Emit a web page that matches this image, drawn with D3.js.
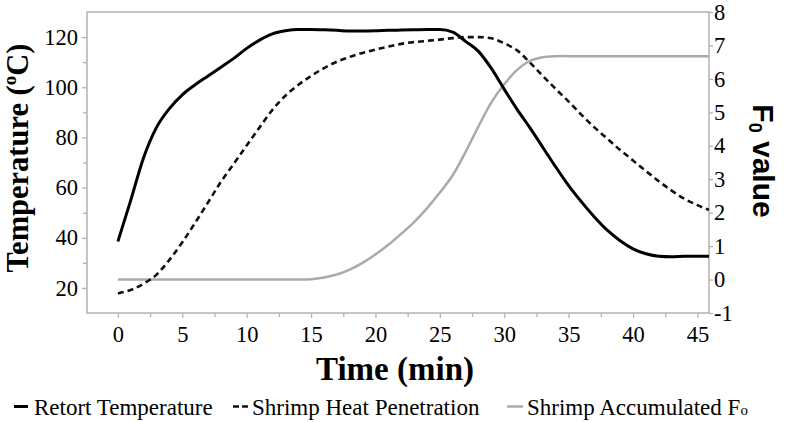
<!DOCTYPE html>
<html>
<head>
<meta charset="utf-8">
<script src="https://cdn.jsdelivr.net/npm/d3@7"></script>
<style>
  html, body { margin: 0; padding: 0; background: #fff; }
  svg { display: block; }
</style>
</head>
<body>
<svg id="chart" width="785" height="422"></svg>
<script>
// ---- data ----
const timeMin = [0,1,2,3,4,5,6,7,8,9,10,11,12,13,14,15,16,17,18,19,20,21,22,23,24,25,26,27,28,29,30,31,32,33,34,35,36,37,38,39,40,41,42,43,44,45,45.9];
const retortTemp = [38.5,55,72,84,91.5,97,101,104.5,108,111.5,115.5,118.8,121.3,122.5,123,123,122.9,122.7,122.4,122.4,122.5,122.7,122.8,122.9,123,123,122,118.3,114.3,107.5,99.2,91.2,83.8,76,68.2,60.8,54.3,48.3,43,38.8,35.6,33.6,32.6,32.4,32.6,32.6,32.6];
const shrimpTemp = [17.8,19.2,21.7,25.3,31.2,38.2,46,54.1,62.3,69.5,76.8,84,91,96.6,100.9,104.5,107.6,110.2,112.1,113.7,115,116.2,117.3,118,118.5,119,119.6,120,120,119.5,117.5,114.7,109.8,104.5,99.3,94.3,89,84,79.5,75,70.8,66.6,62.5,58.8,55.5,53,51.1];
const f0Value = [0,0,0,0,0,0,0,0,0,0,0,0,0,0,0,0.01,0.06,0.15,0.3,0.5,0.75,1.04,1.37,1.72,2.13,2.6,3.12,3.82,4.58,5.3,5.84,6.27,6.54,6.65,6.68,6.68,6.68,6.68,6.68,6.68,6.68,6.68,6.68,6.68,6.68,6.68,6.68];

const xTicks = [0,5,10,15,20,25,30,35,40,45];
const xMinorTicks = [2.5,7.5,12.5,17.5,22.5,27.5,32.5,37.5,42.5];
const tempTicks = [20,40,60,80,100,120];
const tempMinorTicks = [30,50,70,90,110];
const f0Ticks = [-1,0,1,2,3,4,5,6,7,8];

const seriesNames = ["Retort Temperature", "Shrimp Heat Penetration", "Shrimp Accumulated F"];

// ---- layout ----
const svg = d3.select("#chart");
const L = 87, R = 709, T = 12, B = 313;
const serif = "'Liberation Serif', 'Times New Roman', serif";
const sans = "'Liberation Sans', Arial, sans-serif";
const frameColor = "#b3b3b3";
const grayLine = "#aaaaaa";

const x = d3.scaleLinear().domain([-2.4, 45.9]).range([L, R]);
const yT = d3.scaleLinear().domain([10, 130]).range([B, T]);
const yF = d3.scaleLinear().domain([-1, 8]).range([B, T]);

svg.append("rect").attr("width", 785).attr("height", 422).attr("fill", "#fff");

// frame
svg.append("rect").attr("x", L).attr("y", T).attr("width", R - L).attr("height", B - T)
  .attr("fill", "none").attr("stroke", frameColor).attr("stroke-width", 1.5);

function styleAxis(g) {
  g.attr("font-family", serif).attr("font-size", 22.5);
  g.select(".domain").remove();
  g.selectAll(".tick line").attr("stroke", frameColor).attr("stroke-width", 1.3);
  g.selectAll(".tick text").attr("fill", "#000").attr("font-family", serif)
    .style("font-family", serif).style("font-size", "22.5px");
}
function styleMinor(g) {
  g.select(".domain").remove();
  g.selectAll(".tick line").attr("stroke", frameColor).attr("stroke-width", 1.3);
}

// x axis
const gx = svg.append("g").attr("transform", `translate(0,${B})`)
  .call(d3.axisBottom(x).tickValues(xTicks).tickSize(5).tickPadding(8).tickFormat(d3.format("d")));
styleAxis(gx);
svg.append("g").attr("transform", `translate(0,${B})`)
  .call(d3.axisBottom(x).tickValues(xMinorTicks).tickSize(4).tickFormat(""))
  .call(styleMinor);

// left axis
const gl = svg.append("g").attr("transform", `translate(${L},0)`)
  .call(d3.axisLeft(yT).tickValues(tempTicks).tickSize(5).tickPadding(4));
styleAxis(gl);
svg.append("g").attr("transform", `translate(${L},0)`)
  .call(d3.axisLeft(yT).tickValues(tempMinorTicks).tickSize(4).tickFormat(""))
  .call(styleMinor);

// right axis
const gr = svg.append("g").attr("transform", `translate(${R},0)`)
  .call(d3.axisRight(yF).tickValues(f0Ticks).tickSize(4).tickPadding(1).tickFormat(d3.format("d")));
styleAxis(gr);
gr.selectAll(".tick text").text(d => d < 0 ? "-" + Math.abs(d) : d);

// lines
const lineT = d3.line().curve(d3.curveMonotoneX).x((d, i) => x(timeMin[i])).y(d => yT(d));
const lineF = d3.line().curve(d3.curveCatmullRom.alpha(0.5)).x((d, i) => x(timeMin[i])).y(d => yF(d));

svg.append("path").datum(f0Value).attr("d", lineF)
  .attr("fill", "none").attr("stroke", grayLine).attr("stroke-width", 2.5);
svg.append("path").datum(shrimpTemp).attr("d", lineT)
  .attr("fill", "none").attr("stroke", "#111").attr("stroke-width", 2.6).attr("stroke-dasharray", "6,4");
svg.append("path").datum(retortTemp).attr("d", lineT)
  .attr("fill", "none").attr("stroke", "#000").attr("stroke-width", 3);

// axis titles
svg.append("text").attr("x", 395).attr("y", 380).attr("text-anchor", "middle")
  .attr("font-family", serif).attr("font-weight", "bold").attr("font-size", 33)
  .text("Time (min)");

const lt = svg.append("text").attr("transform", "translate(28,158) rotate(-90)").attr("text-anchor", "middle")
  .attr("font-family", serif).attr("font-weight", "bold").attr("font-size", 30.5);
lt.append("tspan").text("Temperature (");
lt.append("tspan").text("o").attr("font-size", 19).attr("dy", -12);
lt.append("tspan").text("C)").attr("dy", 12);

const rt = svg.append("text").attr("transform", "translate(753,161) rotate(90)").attr("text-anchor", "middle")
  .attr("font-family", sans).attr("font-weight", "bold").attr("font-size", 30);
rt.append("tspan").text("F");
rt.append("tspan").text("0").attr("font-size", 18).attr("dy", 4);
rt.append("tspan").text(" value").attr("dy", -4);

// legend
const ly = 406.5, lb = 415;
const leg = svg.append("g").attr("font-family", serif).attr("font-size", 23);
leg.append("line").attr("x1", 14).attr("x2", 28).attr("y1", ly).attr("y2", ly).attr("stroke", "#000").attr("stroke-width", 3);
leg.append("text").attr("x", 34).attr("y", lb).text(seriesNames[0]);
leg.append("line").attr("x1", 233).attr("x2", 248).attr("y1", ly).attr("y2", ly).attr("stroke", "#111").attr("stroke-width", 2.5).attr("stroke-dasharray", "6,3");
leg.append("text").attr("x", 252).attr("y", lb).text(seriesNames[1]);
leg.append("line").attr("x1", 507).attr("x2", 523).attr("y1", ly).attr("y2", ly).attr("stroke", grayLine).attr("stroke-width", 2.5);
const t3 = leg.append("text").attr("x", 527).attr("y", lb);
t3.append("tspan").text(seriesNames[2]);
t3.append("tspan").text("o").attr("font-size", 15);
</script>
</body>
</html>
